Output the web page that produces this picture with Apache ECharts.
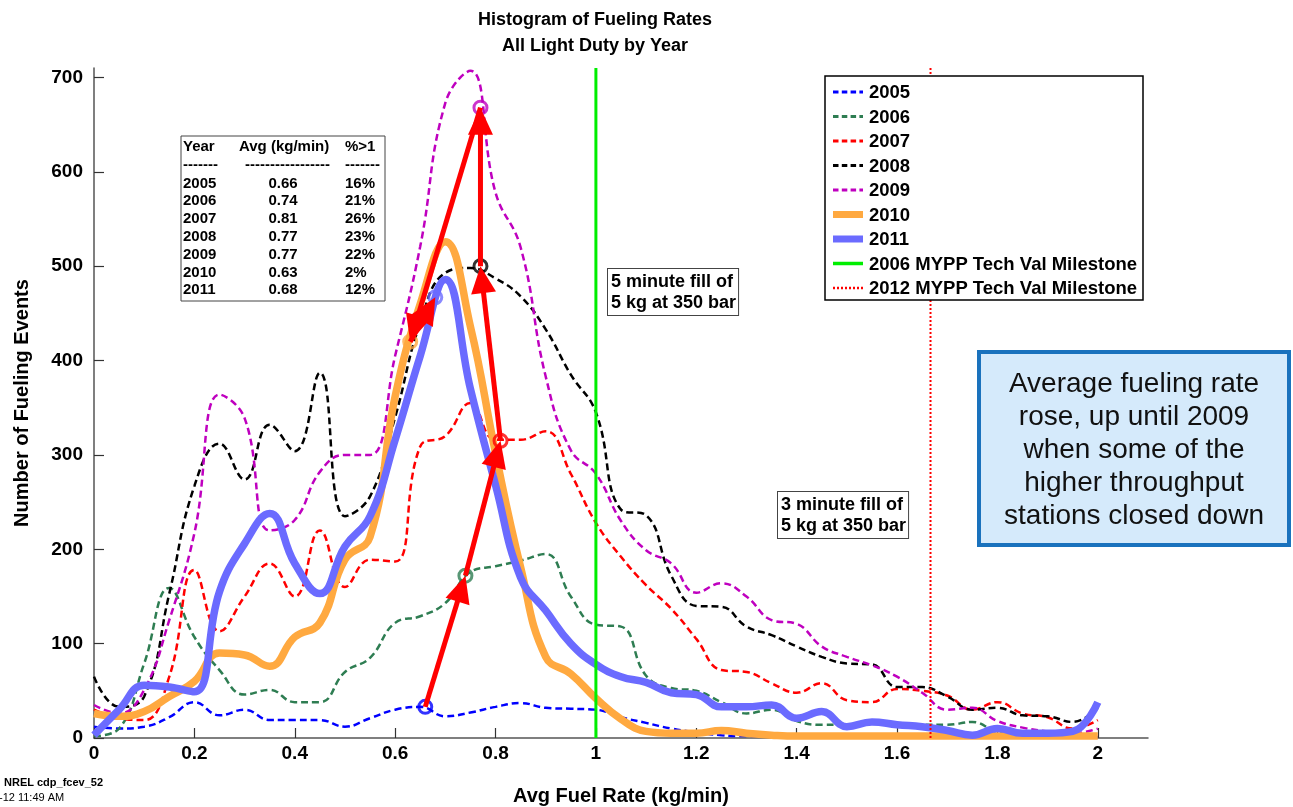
<!DOCTYPE html>
<html>
<head>
<meta charset="utf-8">
<script src="https://cdn.jsdelivr.net/npm/echarts@6/dist/echarts.min.js"></script>
<style>
  html, body { margin: 0; padding: 0; background: #ffffff; }
  #chart { width: 1293px; height: 807px; }
</style>
</head>
<body>
<div id="chart"></div>
<script>
// ---------------- DATA ----------------
const rate = [0, 0.05, 0.1, 0.15, 0.2, 0.25, 0.3, 0.35, 0.4, 0.45, 0.5, 0.55, 0.6, 0.65, 0.7, 0.75, 0.8, 0.85, 0.9, 0.95,
              1, 1.05, 1.1, 1.15, 1.2, 1.25, 1.3, 1.35, 1.4, 1.45, 1.5, 1.55, 1.6, 1.65, 1.7, 1.75, 1.8, 1.85, 1.9, 1.95, 2];

const y2005 = [12, 10, 12, 22, 38, 24, 30, 19, 19, 19, 12, 21, 30, 33, 23, 27, 33, 37, 32, 31,
               30, 22, 16, 10, 6, 3, 2, 2, 2, 1, 1, 1, 1, 1, 1, 1, 1, 1, 1, 1, 1];
const y2006 = [2, 10, 79, 159, 107, 72, 46, 51, 38, 38, 70, 85, 122, 129, 143, 176, 182, 188, 195, 150,
               120, 118, 66, 53, 50, 38, 26, 30, 18, 14, 14, 16, 15, 14, 14, 17, 6, 3, 3, 2, 3];
const y2007 = [30, 21, 19, 65, 178, 113, 150, 185, 150, 220, 160, 189, 187, 309, 320, 355, 316, 316, 325, 280,
               228, 192, 162, 137, 105, 72, 70, 58, 48, 58, 40, 38, 52, 50, 45, 30, 38, 26, 22, 10, 19];
const y2008 = [65, 33, 44, 153, 267, 312, 274, 332, 304, 387, 235, 256, 340, 440, 493, 498, 487, 468, 433, 385,
               345, 242, 236, 172, 140, 139, 118, 109, 97, 86, 79, 78, 54, 54, 44, 30, 32, 24, 23, 17, 32];
const y2009 = [35, 26, 51, 125, 217, 364, 339, 220, 231, 282, 300, 300, 405, 521, 673, 707, 578, 520, 383, 305,
               280, 230, 199, 185, 154, 164, 150, 125, 121, 97, 86, 77, 65, 48, 30, 32, 18, 11, 7, 5, 10];
const y2010 = [26, 23, 28, 44, 60, 90, 88, 76, 107, 122, 189, 213, 362, 460, 526, 436, 302, 181, 86, 68,
               42, 20, 7, 5, 5, 8, 5, 3, 2, 2, 2, 2, 2, 2, 2, 2, 2, 2, 2, 2, 2];
const y2011 = [3, 30, 56, 54, 49, 155, 206, 238, 185, 153, 203, 235, 316, 405, 486, 370, 268, 170, 135, 100,
               78, 65, 59, 48, 46, 33, 33, 35, 21, 28, 12, 17, 14, 12, 8, 3, 10, 5, 5, 7, 38];

const years = ['2005', '2006', '2007', '2008', '2009', '2010', '2011'];
const avgRate = [0.66, 0.74, 0.81, 0.77, 0.77, 0.63, 0.68];      // kg/min, also marker x
const pctOver1 = [16, 21, 26, 23, 22, 2, 12];                     // % > 1 kg/min
const avgCount = [33, 172, 315, 500, 668, 420, 467];              // curve height at the average (marker y)

const milestone2006 = 1.0;        // 5 kg in 5 minutes
const milestone2012 = 5 / 3;      // 5 kg in 3 minutes
const milestoneNames = ['2006 MYPP Tech Val Milestone', '2012 MYPP Tech Val Milestone'];

const xTicks = [0, 0.2, 0.4, 0.6, 0.8, 1, 1.2, 1.4, 1.6, 1.8, 2];
const yTicks = [0, 100, 200, 300, 400, 500, 600, 700];

// ---------------- STYLE ----------------
const FONT = "'Liberation Sans', Arial, Helvetica, sans-serif";
const yearStyles = [
  { color: '#0000ff', width: 2.5, type: [7, 4], legendDash: [5.5, 3.3], legendWidth: 3 },
  { color: '#2e7d52', width: 2.5, type: [7, 4], legendDash: [5.5, 3.3], legendWidth: 3 },
  { color: '#ff0000', width: 2.5, type: [7, 4], legendDash: [5.5, 3.3], legendWidth: 3 },
  { color: '#000000', width: 2.5, type: [7, 4], legendDash: [5.5, 3.3], legendWidth: 3 },
  { color: '#bf00bf', width: 2.5, type: [7, 4], legendDash: [5.5, 3.3], legendWidth: 3 },
  { color: '#ffa940', width: 7.5, type: 'solid', legendDash: null, legendWidth: 7 },
  { color: '#6b6bff', width: 7.5, type: 'solid', legendDash: null, legendWidth: 7 }
];
const milestoneStyles = [
  { color: '#00ee00', width: 3, type: 'solid', legendDash: null, legendWidth: 3.5 },
  { color: '#ff0000', width: 2, type: [2, 2], legendDash: [2, 2], legendWidth: 2.5 }
];
const yearValues = [y2005, y2006, y2007, y2008, y2009, y2010, y2011];

const chart = echarts.init(document.getElementById('chart'), null, { renderer: 'canvas' });

const series = [];
years.forEach((yr, i) => {
  series.push({
    name: yr,
    type: 'line',
    data: rate.map((x, k) => [x, yearValues[i][k]]),
    smooth: 0.45,
    symbol: 'none',
    showSymbol: false,
    lineStyle: { color: yearStyles[i].color, width: yearStyles[i].width, type: yearStyles[i].type },
    itemStyle: { color: yearStyles[i].color },
    z: i >= 5 ? 3 : 2,
    silent: true,
    animation: false
  });
});

[milestone2006, milestone2012].forEach((m, j) => {
  series.push({
    name: milestoneNames[j],
    type: 'line',
    data: [[m, 0], [m, 710]],
    symbol: 'none',
    lineStyle: { color: milestoneStyles[j].color, width: milestoneStyles[j].width, type: milestoneStyles[j].type },
    itemStyle: { color: milestoneStyles[j].color },
    z: 4, silent: true, animation: false
  });
});

// markers at each year's average
series.push({
  name: 'avgMarkers',
  type: 'scatter',
  data: avgRate.map((x, i) => ({
    value: [x, avgCount[i]],
    itemStyle: { color: 'rgba(0,0,0,0)', borderColor: yearStyles[i].color, borderWidth: 3 }
  })),
  symbol: 'circle',
  symbolSize: 13,
  z: 5, silent: true, animation: false
});

// arrows linking consecutive averages
const arrowData = [];
for (let i = 0; i < avgRate.length - 1; i++) {
  arrowData.push([avgRate[i], avgCount[i], avgRate[i + 1], avgCount[i + 1]]);
}
series.push({
  name: 'arrows',
  type: 'custom',
  coordinateSystem: 'cartesian2d',
  data: arrowData,
  encode: { x: [0, 2], y: [1, 3] },
  z: 6, silent: true, animation: false,
  renderItem: function (params, api) {
    const p0 = api.coord([api.value(0), api.value(1)]);
    const p1 = api.coord([api.value(2), api.value(3)]);
    const dx = p1[0] - p0[0], dy = p1[1] - p0[1];
    const len = Math.sqrt(dx * dx + dy * dy);
    const ux = dx / len, uy = dy / len;
    const hl = 27, hw = 12.5;
    const bx = p1[0] - ux * hl, by = p1[1] - uy * hl;
    return {
      type: 'group',
      children: [
        { type: 'line', shape: { x1: p0[0], y1: p0[1], x2: bx + ux * 2, y2: by + uy * 2 },
          style: { stroke: '#ff0000', lineWidth: 5 } },
        { type: 'polygon', shape: { points: [[p1[0], p1[1]], [bx - uy * hw, by + ux * hw], [bx + uy * hw, by - ux * hw]] },
          style: { fill: '#ff0000' } }
      ]
    };
  }
});

// ---------------- GRAPHICS (text / boxes) ----------------
const graphic = [];
graphic.push({ type: 'text', x: 595, y: 20, style: { text: 'Histogram of Fueling Rates', font: 'bold 18px ' + FONT, fill: '#000', align: 'center', verticalAlign: 'middle' } });
graphic.push({ type: 'text', x: 595, y: 46, style: { text: 'All Light Duty by Year', font: 'bold 18px ' + FONT, fill: '#000', align: 'center', verticalAlign: 'middle' } });

// stats table
graphic.push({ type: 'rect', shape: { x: 181, y: 136, width: 204, height: 165 }, style: { fill: '#fff', stroke: '#444', lineWidth: 1 }, z: 10 });
const tFont = 'bold 15px ' + FONT;
const tHead = [['Year', 183, 'left'], ['Avg (kg/min)', 239, 'left'], ['%>1', 345, 'left']];
tHead.forEach(h => graphic.push({ type: 'text', x: h[1], y: 147, z: 11, style: { text: h[0], font: tFont, fill: '#000', align: h[2], verticalAlign: 'middle' } }));
[['-------', 183], ['-----------------', 245], ['-------', 345]].forEach(d =>
  graphic.push({ type: 'text', x: d[1], y: 165, z: 11, style: { text: d[0], font: tFont, fill: '#000', align: 'left', verticalAlign: 'middle' } }));
years.forEach((yr, i) => {
  const yy = 183.5 + i * 17.8;
  graphic.push({ type: 'text', x: 183, y: yy, z: 11, style: { text: yr, font: tFont, fill: '#000', align: 'left', verticalAlign: 'middle' } });
  graphic.push({ type: 'text', x: 283, y: yy, z: 11, style: { text: avgRate[i].toFixed(2), font: tFont, fill: '#000', align: 'center', verticalAlign: 'middle' } });
  graphic.push({ type: 'text', x: 345, y: yy, z: 11, style: { text: pctOver1[i] + '%', font: tFont, fill: '#000', align: 'left', verticalAlign: 'middle' } });
});

// legend (drawn manually to match the line samples)
graphic.push({ type: 'rect', shape: { x: 825, y: 76, width: 318, height: 224 }, style: { fill: '#fff', stroke: '#000', lineWidth: 1.5 }, z: 10 });
const legendNames = years.concat(milestoneNames);
const legendStyles = yearStyles.concat(milestoneStyles);
legendNames.forEach((nm, i) => {
  const yy = 92 + i * 24.5;
  const st = legendStyles[i];
  graphic.push({ type: 'line', z: 11, shape: { x1: 833, y1: yy, x2: 863, y2: yy },
                 style: { stroke: st.color, lineWidth: st.legendWidth, lineDash: st.legendDash } });
  graphic.push({ type: 'text', x: 869, y: yy + 1, z: 11, style: { text: nm, font: 'bold 18.5px ' + FONT, fill: '#000', align: 'left', verticalAlign: 'middle' } });
});

// fill-time annotations
graphic.push({ type: 'text', x: 608, y: 269, z: 11, style: { text: '5 minute fill of\n5 kg at 350 bar', font: 'bold 18px ' + FONT, lineHeight: 20.5, fill: '#000', align: 'left', verticalAlign: 'top', backgroundColor: '#fff', borderColor: '#444', borderWidth: 1, padding: [3, 2, 2, 3] } });
graphic.push({ type: 'text', x: 778, y: 492, z: 11, style: { text: '3 minute fill of\n5 kg at 350 bar', font: 'bold 18px ' + FONT, lineHeight: 20.5, fill: '#000', align: 'left', verticalAlign: 'top', backgroundColor: '#fff', borderColor: '#444', borderWidth: 1, padding: [3, 2, 2, 3] } });

// callout
graphic.push({ type: 'rect', shape: { x: 979, y: 352, width: 310, height: 193 }, style: { fill: '#d5eafb', stroke: '#1a72bd', lineWidth: 4 }, z: 10 });
graphic.push({ type: 'text', x: 1134, y: 368, z: 11, style: { text: 'Average fueling rate\nrose, up until 2009\nwhen some of the\nhigher throughput\nstations closed down', font: '28px ' + FONT, lineHeight: 33, fill: '#111', align: 'center', verticalAlign: 'top' } });

// footer
graphic.push({ type: 'text', x: 4, y: 783, style: { text: 'NREL cdp_fcev_52', font: 'bold 11px ' + FONT, fill: '#000', align: 'left', verticalAlign: 'middle' } });
graphic.push({ type: 'text', x: -1, y: 798, style: { text: '-12 11:49 AM', font: '11px ' + FONT, fill: '#000', align: 'left', verticalAlign: 'middle' } });

const option = {
  backgroundColor: '#ffffff',
  animation: false,
  grid: { left: 94, right: 145, top: 68, bottom: 69, containLabel: false, outerBoundsMode: 'none' },
  xAxis: {
    type: 'value', min: 0, max: 2.1, interval: 0.2,
    name: 'Avg Fuel Rate (kg/min)', nameLocation: 'middle', nameGap: 48,
    nameTextStyle: { fontFamily: FONT, fontWeight: 'bold', fontSize: 20, color: '#000' },
    axisLine: { show: true, lineStyle: { color: '#555', width: 1.5 } },
    axisTick: { show: true, inside: true, length: 10, customValues: xTicks, lineStyle: { color: '#333', width: 1.2 } },
    axisLabel: { customValues: xTicks, margin: 6, fontFamily: FONT, fontWeight: 'bold', fontSize: 19, color: '#000',
                 formatter: v => String(v) },
    splitLine: { show: false }
  },
  yAxis: {
    type: 'value', min: 0, max: 710, interval: 100,
    name: 'Number of Fueling Events', nameLocation: 'middle', nameGap: 62,
    nameTextStyle: { fontFamily: FONT, fontWeight: 'bold', fontSize: 20, color: '#000' },
    axisLine: { show: true, lineStyle: { color: '#555', width: 1.5 } },
    axisTick: { show: true, inside: true, length: 10, customValues: yTicks, lineStyle: { color: '#333', width: 1.2 } },
    axisLabel: { customValues: yTicks, margin: 11, fontFamily: FONT, fontWeight: 'bold', fontSize: 19, color: '#000' },
    splitLine: { show: false }
  },
  graphic: graphic,
  series: series
};
chart.setOption(option);
</script>
</body>
</html>
